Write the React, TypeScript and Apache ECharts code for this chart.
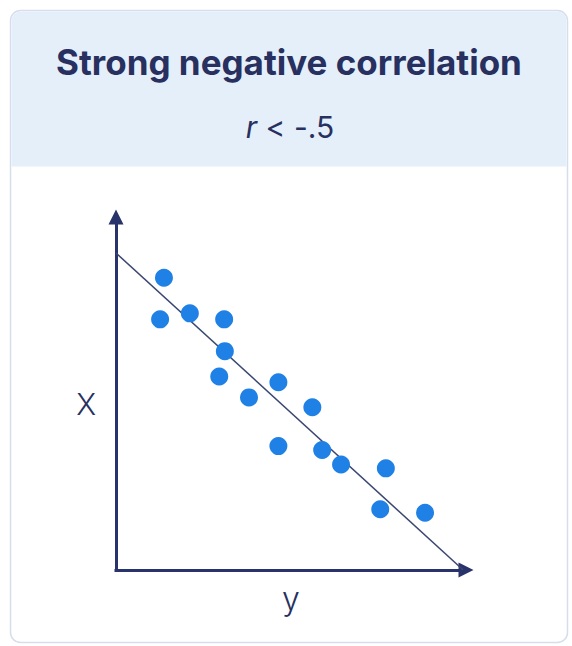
import React, { useEffect, useRef } from "react";
import * as echarts from "echarts";

// Scatter points (horizontal value, vertical value)
const pointsY = [13.7, 12.6, 21.1, 30.9, 31.1, 29.5, 38.0, 46.4, 56.1, 46.4, 58.9, 64.3, 77.1, 75.5, 88.3];
const pointsX = [82.8, 71.0, 72.7, 71.0, 62.0, 54.8, 48.9, 53.2, 46.1, 35.1, 34.0, 29.9, 28.8, 17.2, 16.2];

// Fitted trend line end points
const trendLine = [
  [0, 89.8],
  [99.2, 0],
];

const titleText = "Strong negative correlation";
const subtitleText = "< -.5";
const horizontalAxisName = "y";
const verticalAxisName = "X";

const NAVY = "#27305e";
const DOT = "#1f80e6";

export default function App() {
  const ref = useRef<HTMLDivElement>(null);

  useEffect(() => {
    if (!ref.current) return;
    const chart = echarts.init(ref.current, undefined, { renderer: "svg" });
    const axisLine = () => ({
      show: true,
      symbol: ["none", "triangle"],
      symbolSize: [15, 15],
      lineStyle: { color: "#27336a", width: 3, cap: "square" },
    });
    chart.setOption({
      animation: false,
      backgroundColor: "#ffffff",
      graphic: [
        {
          type: "rect",
          z: -10,
          shape: { x: 10.5, y: 10.5, width: 557, height: 632, r: 10 },
          style: { fill: "#ffffff", stroke: "#d6deec", lineWidth: 1.5 },
        },
        {
          type: "rect",
          z: -9,
          shape: { x: 11.5, y: 11.5, width: 555, height: 155, r: [9, 9, 0, 0] },
          style: { fill: "#e5effa" },
        },
        {
          type: "text",
          x: 289,
          y: 62,
          style: {
            text: titleText,
            fill: NAVY,
            font: "700 35px Inter",
            align: "center",
            verticalAlign: "middle",
          },
        },
        {
          type: "text",
          x: 290,
          y: 127,
          style: {
            text: "{i|r} " + subtitleText,
            fill: NAVY,
            font: "400 30px Inter",
            align: "center",
            verticalAlign: "middle",
            rich: {
              i: { fontStyle: "italic", fontFamily: "Inter", fontSize: 30, fill: NAVY },
            },
          },
        },
      ],
      grid: { left: 116, top: 217, right: 106, bottom: 76, containLabel: false },
      xAxis: {
        type: "value",
        min: 0,
        max: 100,
        name: horizontalAxisName,
        nameLocation: "middle",
        nameGap: 12,
        nameTextStyle: { color: NAVY, fontFamily: "Inter", fontSize: 32, fontWeight: 300 },
        axisLine: axisLine(),
        axisTick: { show: false },
        axisLabel: { show: false },
        splitLine: { show: false },
      },
      yAxis: {
        type: "value",
        min: 0,
        max: 100,
        name: verticalAxisName,
        nameLocation: "middle",
        nameRotate: 0,
        nameGap: 20,
        nameTextStyle: {
          color: NAVY,
          fontFamily: "Inter",
          fontSize: 30,
          fontWeight: 300,
          verticalAlign: "top",
          lineHeight: 20,
        },
        axisLine: axisLine(),
        axisTick: { show: false },
        axisLabel: { show: false },
        splitLine: { show: false },
      },
      series: [
        {
          type: "line",
          data: trendLine,
          symbol: "none",
          lineStyle: { color: "#3a4670", width: 1.5 },
          z: 1,
        },
        {
          type: "scatter",
          data: pointsY.map((v, i) => [v, pointsX[i]]),
          symbolSize: 18,
          itemStyle: { color: DOT, opacity: 1 },
          z: 3,
        },
      ],
    });
    return () => chart.dispose();
  }, []);

  return (
    <div
      ref={ref}
      style={{ position: "fixed", left: 0, top: 0, width: 572, height: 646 }}
    />
  );
}
